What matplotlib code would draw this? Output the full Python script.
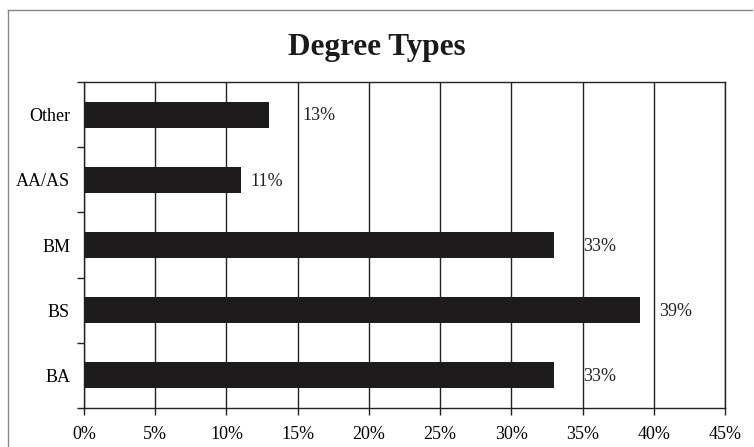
import matplotlib
matplotlib.use('Agg')
from matplotlib import pyplot as plt
from matplotlib.lines import Line2D
import numpy as np

# Chart data
categories = ['BA', 'BS', 'BM', 'AA/AS', 'Other']
values = [33, 39, 33, 11, 13]
xticks = [0, 5, 10, 15, 20, 25, 30, 35, 40, 45]
title = 'Degree Types'

# label offsets (points) as they sit in the original
labelPad = [21, 14, 21, 7, 24]

plt.rcParams['font.family'] = ['Liberation Serif', 'DejaVu Serif']

fig = plt.figure(figsize=(7.54, 4.47), dpi=100)
ax = fig.add_axes([84/754, 1 - 408/447, (725 - 84)/754, (408 - 82)/447])

y = np.arange(len(categories))
ax.barh(y, values, height=0.4, color='#1e1b1c', zorder=3)
for yi, v, pad in zip(y, values, labelPad):
	ax.annotate(f'{v}%', (v, yi), xytext=(pad, -1), textcoords='offset points',
		va='center', ha='left', fontsize=13, color='#222222')

ax.set_xlim(0, 45)
ax.set_ylim(-0.5, len(categories) - 0.5)
ax.set_xticks(xticks)
ax.set_xticklabels([f'{t}%' for t in xticks], fontsize=13)
ax.set_yticks(y)
ax.set_yticklabels(categories, fontsize=13)
ax.set_yticks(np.arange(-0.5, len(categories), 1), minor=True)
ax.tick_params(axis='y', which='major', length=0, pad=10)
ax.tick_params(axis='y', which='minor', length=5, width=1, direction='out', color='#222222')
ax.tick_params(axis='x', length=5, width=1, direction='out', pad=8, color='#222222')
ax.grid(axis='x', color='#222222', linewidth=1, zorder=0)
for s in ax.spines.values():
	s.set_color('#222222')
	s.set_linewidth(1)

fig.suptitle(title, fontsize=22.5, fontweight='bold', y=1 - 47/447, va='center', color='#1a1a1a')

# outer chart frame
fig.add_artist(Line2D([8/754, 8/754], [0, 1 - 10/447], color='#888888', linewidth=1))
fig.add_artist(Line2D([8/754, 752/754], [1 - 10/447, 1 - 10/447], color='#888888', linewidth=1))

plt.savefig('out.png', dpi=100)
